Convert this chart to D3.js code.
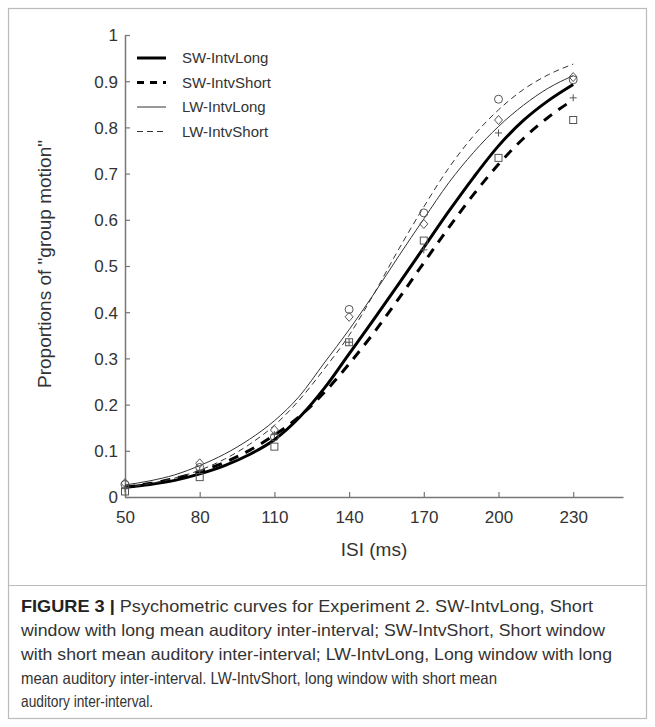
<!DOCTYPE html>
<html><head><meta charset="utf-8">
<script src="https://cdn.jsdelivr.net/npm/d3@7"></script>
<style>
body{margin:0;background:#fff;}
svg{display:block;font-family:"Liberation Sans",Arial,sans-serif;}
</style></head>
<body><svg id="c" width="655" height="727"></svg>
<script>
// ---- data ----
const xTicks = [50, 80, 110, 140, 170, 200, 230];
const yTicks = [0, 0.1, 0.2, 0.3, 0.4, 0.5, 0.6, 0.7, 0.8, 0.9, 1];
const yTickLabels = ["0","0.1","0.2","0.3","0.4","0.5","0.6","0.7","0.8","0.9","1"];
const seriesNames = ["SW-IntvLong", "SW-IntvShort", "LW-IntvLong", "LW-IntvShort"];
const curveX = [50,60,70,80,90,100,110,120,130,140,150,160,170,180,190,200,210,220,230];
const curveSWLong  = [0.021,0.027,0.036,0.050,0.068,0.092,0.124,0.172,0.235,0.310,0.385,0.462,0.540,0.618,0.692,0.760,0.815,0.858,0.893];
const curveSWShort = [0.021,0.029,0.040,0.055,0.075,0.101,0.134,0.174,0.226,0.288,0.356,0.430,0.507,0.583,0.655,0.720,0.776,0.822,0.860];
const curveLWLong  = [0.026,0.035,0.048,0.068,0.093,0.125,0.165,0.218,0.290,0.362,0.440,0.522,0.602,0.680,0.746,0.802,0.848,0.885,0.912];
const curveLWShort = [0.020,0.029,0.041,0.058,0.082,0.114,0.155,0.210,0.277,0.350,0.440,0.537,0.628,0.712,0.782,0.838,0.882,0.914,0.937];
const ptSWLong  = [0.018,0.058,0.135,0.335,0.535,0.788,0.864]; // plus
const ptSWShort = [0.012,0.043,0.109,0.335,0.555,0.734,0.816]; // square
const ptLWLong  = [0.030,0.073,0.145,0.390,0.591,0.816,0.909]; // diamond
const ptLWShort = [0.027,0.064,0.130,0.406,0.615,0.861,0.903]; // circle
const captionLines = [
  "Psychometric curves for Experiment 2. SW-IntvLong, Short",
  "window with long mean auditory inter-interval; SW-IntvShort, Short window",
  "with short mean auditory inter-interval; LW-IntvLong, Long window with long",
  "mean auditory inter-interval. LW-IntvShort, long window with short mean",
  "auditory inter-interval."
];

// ---- layout ----
const svg = d3.select("#c");
const x = d3.scaleLinear().domain([50, 250]).range([125, 623]);
const y = d3.scaleLinear().domain([0, 1]).range([497, 35]);
const axisCol = "#777", textCol = "#333";

// frame
svg.append("rect").attr("x", 8.5).attr("y", 8.5).attr("width", 638).attr("height", 710)
  .attr("fill", "none").attr("stroke", "#bbb").attr("stroke-width", 1.2);
svg.append("line").attr("x1", 8.5).attr("x2", 646.5).attr("y1", 585.5).attr("y2", 585.5)
  .attr("stroke", "#bbb").attr("stroke-width", 1.2);

// axes
const gx = svg.append("g").attr("transform", "translate(0,497)")
  .call(d3.axisBottom(x).tickValues(xTicks).tickSize(-5).tickSizeOuter(0).tickPadding(14));
const gy = svg.append("g").attr("transform", "translate(125,0)")
  .call(d3.axisLeft(y).tickValues(yTicks).tickFormat((d, i) => yTickLabels[i]).tickSize(-5).tickSizeOuter(0).tickPadding(7));
[gx, gy].forEach(g => {
  g.select(".domain").attr("stroke", axisCol).attr("stroke-width", 1.5);
  g.selectAll(".tick line").attr("stroke", axisCol).attr("stroke-width", 1.2);
  g.selectAll(".tick text").attr("fill", textCol).attr("font-size", 17)
   .attr("font-family", "Liberation Sans, Arial, sans-serif");
});
gx.selectAll(".tick text").attr("dy", "0.71em");
gy.selectAll(".tick text").attr("dy", "0.35em");

// labels
svg.append("text").attr("x", 374).attr("y", 556).attr("text-anchor", "middle")
  .attr("font-size", 19).attr("fill", textCol).text("ISI (ms)");
svg.append("text").attr("transform", "translate(51,264) rotate(-90)").attr("text-anchor", "middle")
  .attr("font-size", 19).attr("fill", textCol).text("Proportions of \"group motion\"");

// curves
const styles = [
  {w: 3, dash: null, col: "#000"},
  {w: 3, dash: "10,8", col: "#000"},
  {w: 1, dash: null, col: "#333"},
  {w: 1, dash: "6,4", col: "#333"}
];
const curves = [curveSWLong, curveSWShort, curveLWLong, curveLWShort];
const line = d3.line().x(d => x(d[0])).y(d => y(d[1])).curve(d3.curveMonotoneX);
curves.forEach((c, i) => {
  svg.append("path").datum(curveX.map((v, j) => [v, c[j]]))
    .attr("d", line).attr("fill", "none").attr("stroke", styles[i].col)
    .attr("stroke-width", styles[i].w).attr("stroke-dasharray", styles[i].dash);
});

// markers
const mk = svg.append("g").attr("fill", "none").attr("stroke", "#555").attr("stroke-width", 1);
xTicks.forEach((xv, j) => {
  const px = x(xv);
  let py = y(ptSWLong[j]);
  mk.append("path").attr("d", `M${px-3.5},${py}H${px+3.5}M${px},${py-3.5}V${py+3.5}`);
  py = y(ptSWShort[j]);
  mk.append("rect").attr("x", px-3.5).attr("y", py-3.5).attr("width", 7).attr("height", 7);
  py = y(ptLWLong[j]);
  mk.append("path").attr("d", `M${px},${py-4.5}L${px+4},${py}L${px},${py+4.5}L${px-4},${py}Z`);
  py = y(ptLWShort[j]);
  mk.append("circle").attr("cx", px).attr("cy", py).attr("r", 4);
});

// legend
const lg = svg.append("g");
seriesNames.forEach((n, i) => {
  const ly = 58 + i * 24.5;
  lg.append("line").attr("x1", 137).attr("x2", 166).attr("y1", ly).attr("y2", ly)
    .attr("stroke", styles[i].col).attr("stroke-width", styles[i].w)
    .attr("stroke-dasharray", i === 1 ? "7,6" : styles[i].dash);
  lg.append("text").attr("x", 182).attr("y", ly).attr("dy", "0.35em")
    .attr("font-size", 15).attr("fill", textCol).text(n);
});

// caption
const capY = [612, 636, 660, 684, 707];
const capW = [572, 584, 591, 476, 132];
captionLines.forEach((t, i) => {
  const tx = svg.append("text").attr("x", 21).attr("y", capY[i]).attr("font-size", 16.5)
    .attr("fill", textCol).attr("textLength", capW[i]).attr("lengthAdjust", "spacingAndGlyphs");
  if (i === 0) tx.append("tspan").attr("font-weight", "bold").attr("fill", "#222").text("FIGURE 3 | ");
  tx.append("tspan").text(t);
});
</script></body></html>
